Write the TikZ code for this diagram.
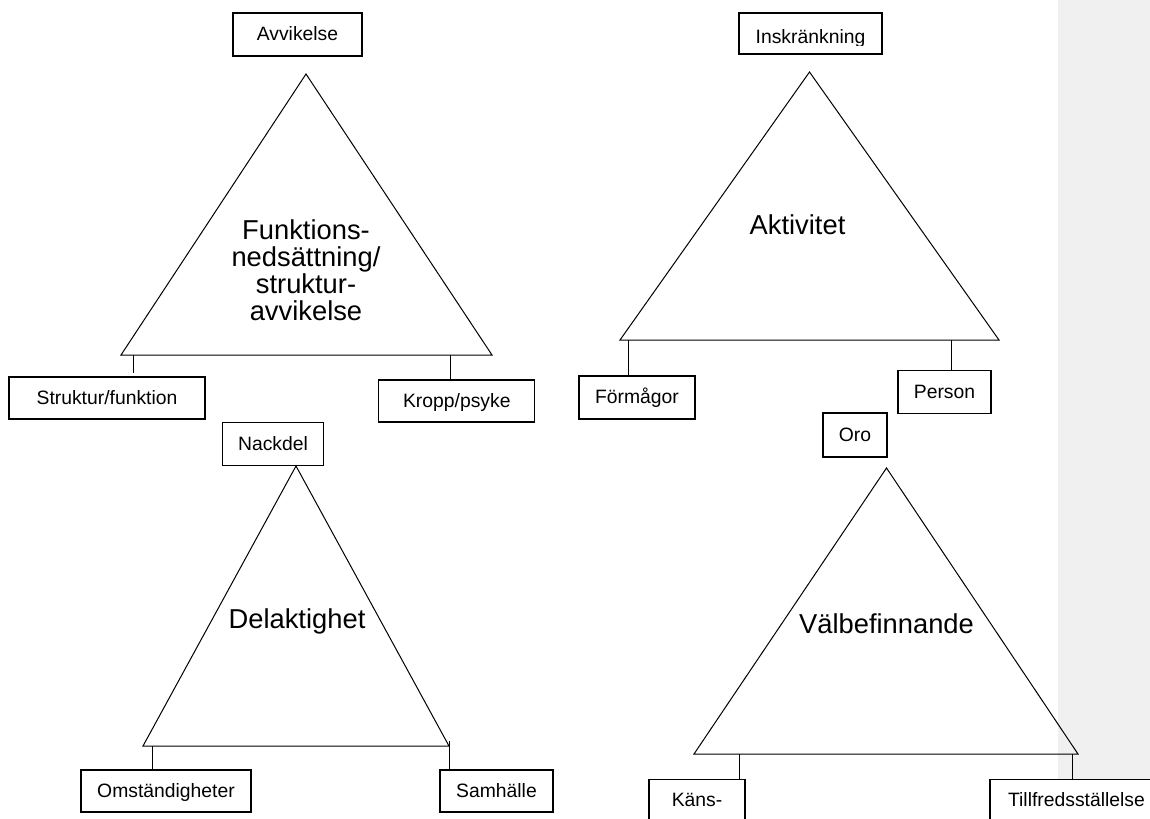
\documentclass[tikz,border=0pt]{standalone}
\usepackage{fontspec}
\setmainfont{Liberation Sans}
\definecolor{panel}{RGB}{240,240,240}
\newcommand{\smallf}{\fontsize{14.5pt}{17pt}\selectfont}
\newcommand{\bigf}{\fontsize{20.5pt}{20.25pt}\selectfont}
\begin{document}
\begin{tikzpicture}[x=0.75pt,y=-0.75pt,
  box/.style={draw=black, line width=0.8pt, fill=white, inner sep=0pt, font=\smallf, text height=12pt, text depth=3pt},
  wh/.style 2 args={minimum width=#1*0.75pt, minimum height=#2*0.75pt},
  tri/.style={draw=black, line width=0.75pt, line join=miter},
  tick/.style={draw=black, line width=0.75pt},
  big/.style={font=\bigf, inner sep=0pt, align=center},
  opentop/.style={box, anchor=north, inner ysep=9.4pt, text height=10.5pt, text depth=40pt}
]
\useasboundingbox (0,0) rectangle (1150,818);
\clip (0,0) rectangle (1150,818);
\fill[white] (0,0) rectangle (1150,818);
\fill[panel] (1058,0) rectangle (1150,818);

% ---------- boxes ----------
\node[box, wh={129}{43}] (avv) at (297.5,34.5) {Avvikelse};
\node[box, wh={143}{41}] (ins) at (810.5,33.5) {};
\begin{scope}
  \clip (739,13) rectangle (882,45.5);
  \node[font=\smallf, inner sep=0pt, anchor=base] (inst) at (810.5,43.5) {Inskränkning};
\end{scope}
\node[box, wh={196}{42}] (sf) at (107,398) {Struktur/funktion};
\node[box, wh={156}{42}] (kp) at (456.8,401) {Kropp/psyke};
\node[box, wh={101}{43}] (nack) at (273,444.3) {Nackdel};
\node[box, wh={116}{43}] (form) at (637,397.5) {Förmågor};
\node[box, wh={93}{43}] (pers) at (944.5,392.2) {Person};
\node[box, wh={64}{44}] (oro) at (855,435) {Oro};
\node[box, wh={170}{42}] (oms) at (166,791) {Omständigheter};
\node[box, wh={113}{42}] (sam) at (496.5,791) {Samhälle};
\node[opentop, minimum width=96*0.75pt] (kans) at (697,779) {Käns-};
\node[opentop, minimum width=173*0.75pt] (till) at (1076.5,779) {Tillfredsställelse};

% ---------- triangles ----------
\coordinate (a1) at (306,74);   \coordinate (l1) at (121,355);  \coordinate (r1) at (492,355);
\coordinate (a2) at (809.5,72); \coordinate (l2) at (620,340);  \coordinate (r2) at (999,340);
\coordinate (a3) at (296,466);  \coordinate (l3) at (143,746);  \coordinate (r3) at (449,746);
\coordinate (a4) at (886.5,468);\coordinate (l4) at (694,754);  \coordinate (r4) at (1078,754);
\draw[tri] (a1) -- (l1) -- (r1) -- cycle;
\draw[tri] (a2) -- (l2) -- (r2) -- cycle;
\draw[tri] (a3) -- (l3) -- (r3) -- cycle;
\draw[tri] (a4) -- (l4) -- (r4) -- cycle;

% ---------- triangle labels ----------
\node[big] (t1) at (306,270) {Funktions-\\nedsättning/\\struktur-\\avvikelse};
\node[big, anchor=base] (t2) at (797.5,234) {Aktivitet};
\node[big, anchor=base] (t3) at (297,628) {Delaktighet};
\node[big, anchor=base] (t4) at (886.5,633) {Välbefinnande};

% ---------- ticks ----------
\coordinate (k1a) at (133,355); \coordinate (k1b) at (133,372.7);
\draw[tick] (k1a) -- (k1b);
\coordinate (k1c) at (450,355);
\draw[tick] (k1c) -- (k1c |- kp.north);
\coordinate (k2a) at (628,340);
\draw[tick] (k2a) -- (k2a |- form.north);
\coordinate (k2b) at (951.7,340);
\draw[tick] (k2b) -- (k2b |- pers.north);
\coordinate (k3a) at (152,746);
\draw[tick] (k3a) -- (k3a |- oms.north);
\coordinate (k3b) at (449,741);
\draw[tick] (k3b) -- (k3b |- sam.north);
\coordinate (k4a) at (739,754);
\draw[tick] (k4a) -- (k4a |- kans.north);
\coordinate (k4b) at (1072,754);
\draw[tick] (k4b) -- (k4b |- till.north);
\end{tikzpicture}
\end{document}
